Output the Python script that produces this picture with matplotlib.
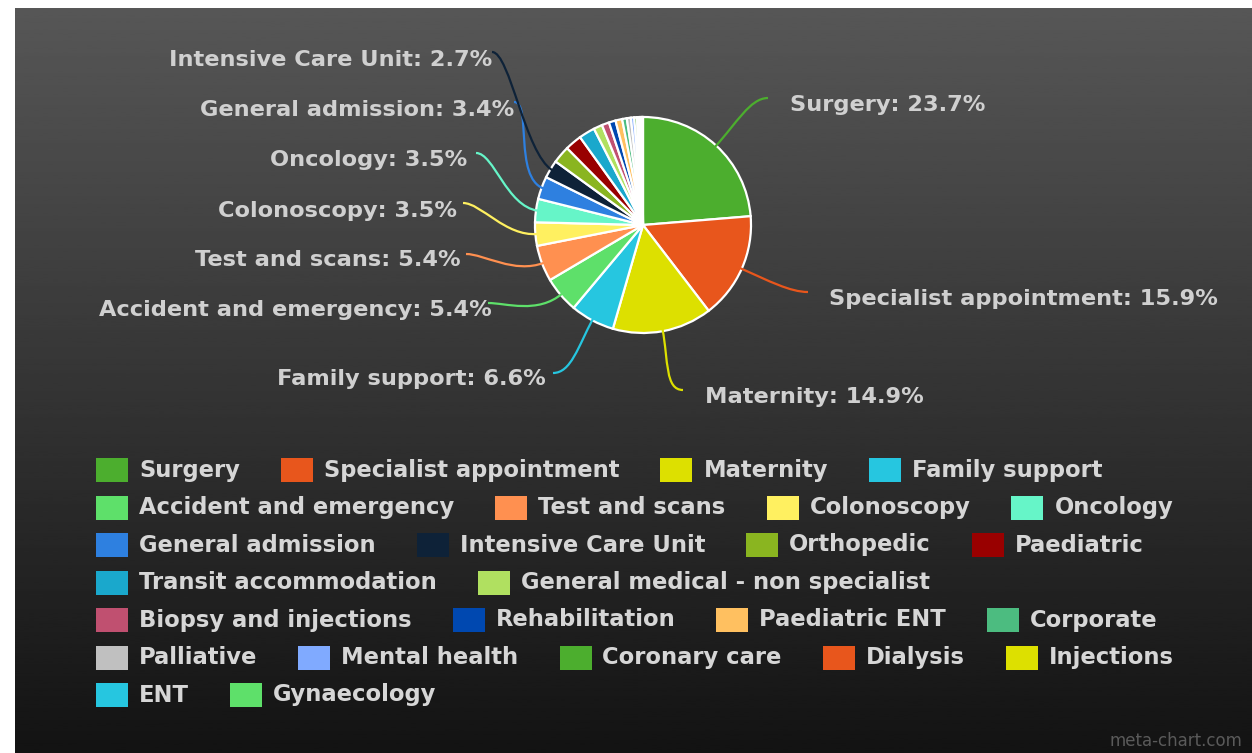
import matplotlib
matplotlib.use('Agg')
import matplotlib.pyplot as plt
import numpy as np
from matplotlib.patches import Rectangle
from matplotlib.path import Path
from matplotlib.patches import PathPatch

W, H = 1252, 753

categories = ['Surgery', 'Specialist appointment', 'Maternity', 'Family support',
              'Accident and emergency', 'Test and scans', 'Colonoscopy', 'Oncology',
              'General admission', 'Intensive Care Unit', 'Orthopedic', 'Paediatric',
              'Transit accommodation', 'General medical - non specialist',
              'Biopsy and injections', 'Rehabilitation', 'Paediatric ENT', 'Corporate',
              'Palliative', 'Mental health', 'Coronary care', 'Dialysis', 'Injections',
              'ENT', 'Gynaecology']
shares = [23.7, 15.9, 14.9, 6.6, 5.4, 5.4, 3.5, 3.5, 3.4, 2.7,
          2.6, 2.5, 2.4, 1.3, 1.1, 1.0, 1.0, 0.7,
          0.6, 0.5, 0.4, 0.3, 0.25, 0.2, 0.15]
colors = ['#4cae2e', '#e8561c', '#dde000', '#26c6e0', '#5ee06a', '#ff9050',
          '#fff060', '#66f5c8', '#2e80e0', '#0e2238', '#8ab520', '#990000',
          '#1aa8cc', '#b0e060', '#c05070', '#0048b0', '#ffc060', '#4cbc80',
          '#c0c0c0', '#80aaff', '#4cae2e', '#e8561c', '#dde000', '#26c6e0', '#5ee06a']

# label placement in image pixels: (line end x, line end y, text x, text y, align)
label_pos = [(768, 98, 790, 105, 'left'),
             (808, 292, 829, 299, 'left'),
             (683, 390, 705, 397, 'left'),
             (553, 373, 546, 379, 'right'),
             (488, 303, 492, 310, 'right'),
             (466, 254, 461, 260, 'right'),
             (463, 203, 457, 211, 'right'),
             (476, 153, 467, 160, 'right'),
             (514, 102, 514, 110, 'right'),
             (492, 52, 492, 60, 'right')]

cx, cy, R = 643, 225, 108

fig = plt.figure(figsize=(W / 100, H / 100), dpi=100)
fig.patch.set_facecolor('white')

# dark gradient panel
bg = fig.add_axes([15 / W, 0, 1 - 15 / W, 1 - 8 / H])
grad = np.linspace(0.34, 0.075, 256).reshape(-1, 1)
bg.imshow(grad, cmap='gray', vmin=0, vmax=1, aspect='auto', extent=[0, 1, 0, 1])
bg.set_axis_off()

ax = fig.add_axes([0, 0, 1, 1])
ax.patch.set_alpha(0)

wedges, _ = ax.pie(shares, colors=colors, startangle=90, counterclock=False,
                   center=(cx, H - cy), radius=R, frame=False,
                   wedgeprops=dict(edgecolor='white', linewidth=1.6))
ax.set_xlim(0, W)
ax.set_ylim(0, H)
ax.set_aspect('auto')
ax.set_axis_off()

# leader lines and labels
cum = np.cumsum([0] + shares)
for i, (ex, ey, tx, ty, ha) in enumerate(label_pos):
    mid = np.deg2rad((cum[i] + shares[i] / 2) / 100 * 360)
    d = np.array([np.sin(mid), np.cos(mid)])  # up is +y
    p0 = np.array([cx, H - cy]) + d * (R - 2)
    p1 = p0 + d * 32
    p3 = np.array([ex, H - ey])
    sgn = 1 if ha == 'left' else -1
    p2 = p3 - np.array([sgn * 18, 0])
    path = Path([p0, p1, p2, p3], [Path.MOVETO, Path.CURVE4, Path.CURVE4, Path.CURVE4])
    ax.add_patch(PathPatch(path, facecolor='none', edgecolor=colors[i], lw=1.6))
    ax.text(tx, H - ty, f'{categories[i]}: {shares[i]}%', ha=ha, va='center',
            fontsize=16.2, fontweight='bold', color='#d0d0d0', family='DejaVu Sans')

# flowing legend
renderer = fig.canvas.get_renderer()
x0, xmax = 96, 1205
sw, sh, gap, spacing = 32, 24, 11, 41
row_y0, row_h = 470, 37.5
x, row = x0, 0
for name, col in zip(categories, colors):
    t = ax.text(0, 0, name, ha='left', va='center', fontsize=16.3, fontweight='bold',
                color='#d6d6d6', family='DejaVu Sans')
    tw = t.get_window_extent(renderer).width
    if x + sw + gap + tw > xmax and x > x0:
        row += 1
        x = x0
    yc = H - (row_y0 + row * row_h)
    ax.add_patch(Rectangle((x, yc - sh / 2), sw, sh, facecolor=col, edgecolor='none'))
    t.set_position((x + sw + gap, yc))
    x += sw + gap + tw + spacing

ax.text(1242, H - 741, 'meta-chart.com', ha='right', va='center', fontsize=12,
        color='#5a5a5a', family='DejaVu Sans')

fig.savefig('out.png', dpi=100, facecolor=fig.get_facecolor())
